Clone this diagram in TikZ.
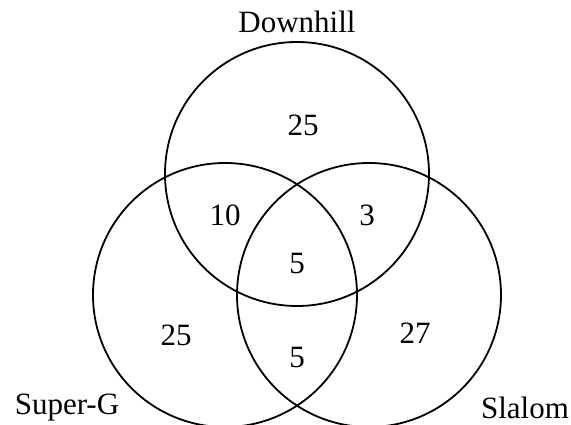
\documentclass[tikz,border=0pt]{standalone}
\usepackage{fontspec}
\setmainfont{Liberation Serif}
\usepackage{tikz}
\usetikzlibrary{positioning}

\begin{document}
\begin{tikzpicture}[
  x=1pt, y=-1pt,
  set/.style={draw, circle, line width=1.8pt, minimum size=264pt, inner sep=0pt},
  lbl/.style={font=\fontsize{31}{37}\selectfont, inner sep=0pt},
  num/.style={lbl}
]
  \useasboundingbox (0,0) rectangle (571,425);

  \node[set] (down) at (297,174) {};
  \node[set] (super) at (225,295) {};
  \node[set] (slal) at (369,295) {};

  \node[lbl] (tdown) at (297,22) {Downhill};
  \node[lbl] (tsuper) at (67,408) {Super-G};
  \node[lbl] (tslal) at (525,408) {Slalom};

  \node[num] (n1) at (303,125) {25};
  \node[num] (n2) at (225,215) {10};
  \node[num] (n3) at (367,215) {3};
  \node[num] (n4) at (297,264) {5};
  \node[num] (n5) at (176,335) {25};
  \node[num] (n6) at (297,358) {5};
  \node[num] (n7) at (415,333) {27};
\end{tikzpicture}
\end{document}
